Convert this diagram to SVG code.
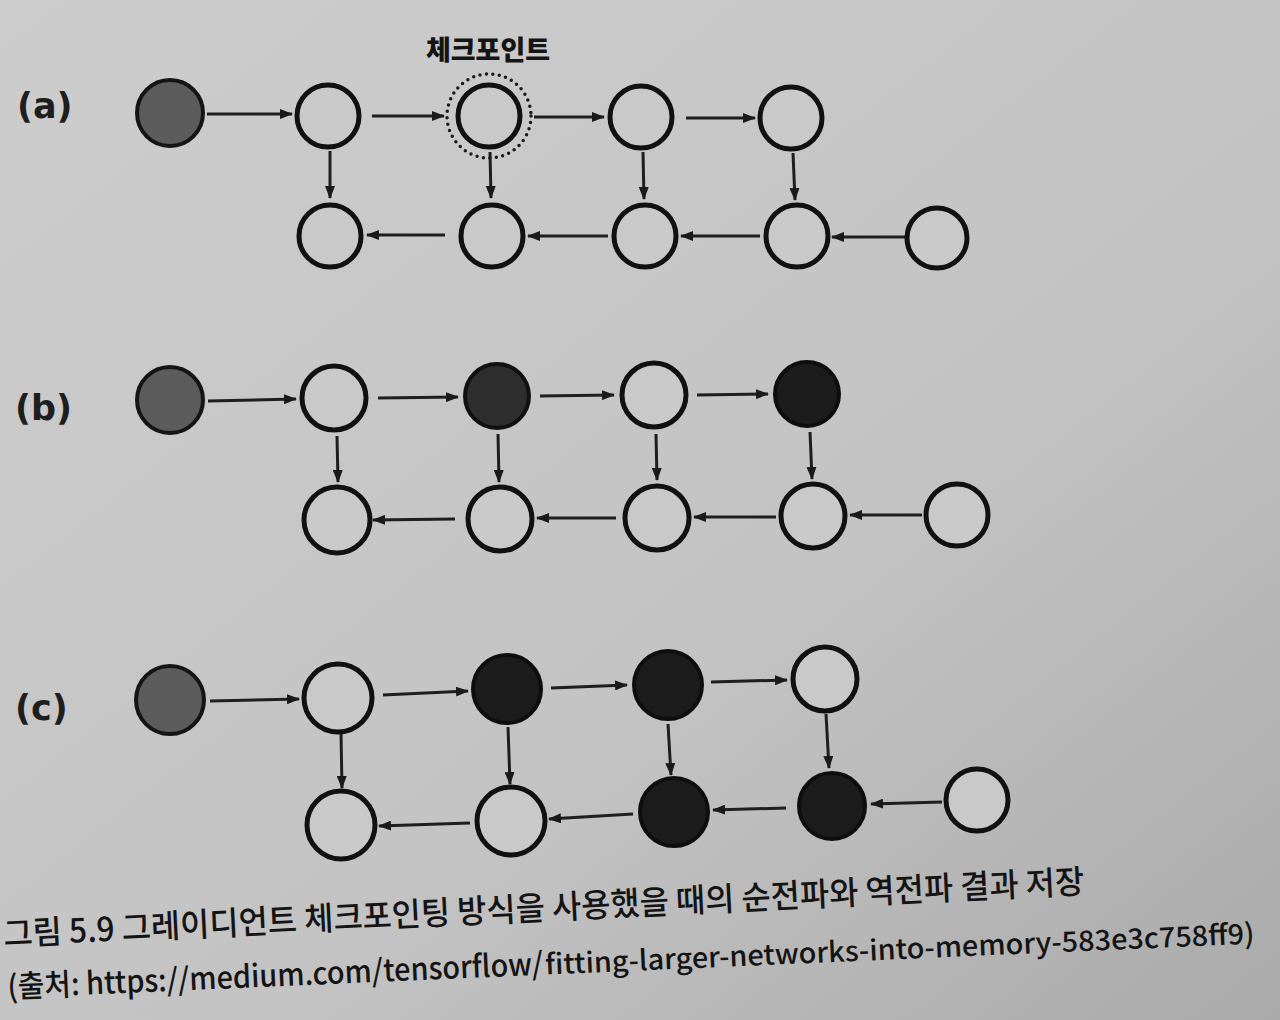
<svg xmlns="http://www.w3.org/2000/svg" width="1280" height="1020" viewBox="0 0 1280 1020">
<defs>
<linearGradient id="bg" x1="0" y1="0" x2="1" y2="1">
<stop offset="0" stop-color="#cdcdcd"/>
<stop offset="0.6" stop-color="#c3c3c3"/>
<stop offset="1" stop-color="#aaaaaa"/>
</linearGradient>
<marker id="ah" viewBox="0 0 13 10" refX="12" refY="5" markerWidth="13" markerHeight="10" markerUnits="userSpaceOnUse" orient="auto">
<path d="M0,0 L13,5 L0,10 Z" fill="#1a1a1a"/>
</marker>
<style>
.n{fill:#c9c9c9;stroke:#111;stroke-width:5}
.g{fill:#5c5c5c;stroke:#151515;stroke-width:4}
.d{fill:#2e2e2e;stroke:#111;stroke-width:4}
.k{fill:#1c1c1c;stroke:#0e0e0e;stroke-width:4}
.ring{fill:none;stroke:#1a1a1a;stroke-width:3.5;stroke-dasharray:0 6.5;stroke-linecap:round}
.c line{stroke:#1e1e1e;stroke-width:3;marker-end:url(#ah)}
.lbl{font-family:"DejaVu Sans","Noto Sans",sans-serif;font-size:35px;font-weight:600;fill:#1e1e1e}
.cap{font-family:"Noto Sans CJK KR","Liberation Sans",sans-serif;font-weight:500;fill:#141414}
</style>
</defs>
<rect width="1280" height="1020" fill="url(#bg)"/>

<text class="lbl" x="17" y="118">(a)</text>
<text class="lbl" x="15" y="420">(b)</text>
<text class="lbl" x="15" y="720">(c)</text>
<text x="488" y="60" text-anchor="middle" font-family="Noto Sans CJK KR, sans-serif" font-weight="900" font-size="27" fill="#141414">체크포인트</text>

<g class="c" id="connectors">
<line x1="207" y1="114" x2="292" y2="114"/>
<line x1="372" y1="116" x2="444" y2="116"/>
<line x1="534" y1="117" x2="604" y2="117"/>
<line x1="686" y1="118" x2="755" y2="118"/>
<line x1="330" y1="151" x2="330" y2="198"/>
<line x1="490" y1="152" x2="491" y2="198"/>
<line x1="643" y1="152" x2="644" y2="199"/>
<line x1="793" y1="153" x2="795" y2="200"/>
<line x1="905" y1="237" x2="832" y2="237"/>
<line x1="760" y1="236" x2="681" y2="236"/>
<line x1="608" y1="236" x2="528" y2="236"/>
<line x1="445" y1="235" x2="367" y2="235"/>

<line x1="208" y1="401" x2="296" y2="399"/>
<line x1="378" y1="398" x2="458" y2="397"/>
<line x1="540" y1="396" x2="614" y2="395"/>
<line x1="697" y1="395" x2="768" y2="394"/>
<line x1="337" y1="436" x2="338" y2="482"/>
<line x1="498" y1="434" x2="499" y2="482"/>
<line x1="656" y1="434" x2="657" y2="480"/>
<line x1="810" y1="432" x2="812" y2="479"/>
<line x1="922" y1="515" x2="850" y2="515"/>
<line x1="776" y1="517" x2="694" y2="517"/>
<line x1="616" y1="518" x2="537" y2="518"/>
<line x1="455" y1="519" x2="373" y2="520"/>

<line x1="210" y1="701" x2="299" y2="699"/>
<line x1="383" y1="695" x2="468" y2="691"/>
<line x1="551" y1="688" x2="627" y2="685"/>
<line x1="711" y1="682" x2="787" y2="680"/>
<line x1="341" y1="733" x2="342" y2="788"/>
<line x1="508" y1="727" x2="510" y2="784"/>
<line x1="668" y1="724" x2="671" y2="775"/>
<line x1="826" y1="714" x2="829" y2="768"/>
<line x1="942" y1="802" x2="871" y2="804"/>
<line x1="786" y1="808" x2="713" y2="810"/>
<line x1="633" y1="814" x2="549" y2="819"/>
<line x1="470" y1="823" x2="379" y2="826"/>
</g>

<g id="a0"><circle class="g" cx="170" cy="113" r="33"/></g>
<g id="a1"><circle class="n" cx="328" cy="116" r="31"/></g>
<g id="a2"><circle class="ring" cx="489" cy="116" r="42"/><circle class="n" cx="489" cy="116" r="31"/></g>
<g id="a3"><circle class="n" cx="641" cy="117" r="31"/></g>
<g id="a4"><circle class="n" cx="791" cy="118" r="31"/></g>
<g id="a5"><circle class="n" cx="330" cy="236" r="31"/></g>
<g id="a6"><circle class="n" cx="492" cy="236" r="31"/></g>
<g id="a7"><circle class="n" cx="645" cy="236" r="31"/></g>
<g id="a8"><circle class="n" cx="797" cy="236" r="31"/></g>
<g id="a9"><circle class="n" cx="937" cy="238" r="30"/></g>

<g id="b0"><circle class="g" cx="170" cy="400" r="33"/></g>
<g id="b1"><circle class="n" cx="334" cy="398" r="32"/></g>
<g id="b2"><circle class="d" cx="497" cy="396" r="32"/></g>
<g id="b3"><circle class="n" cx="654" cy="395" r="32"/></g>
<g id="b4"><circle class="k" cx="807" cy="394" r="32"/></g>
<g id="b5"><circle class="n" cx="337" cy="520" r="33"/></g>
<g id="b6"><circle class="n" cx="500" cy="519" r="32"/></g>
<g id="b7"><circle class="n" cx="657" cy="518" r="32"/></g>
<g id="b8"><circle class="n" cx="813" cy="516" r="32"/></g>
<g id="b9"><circle class="n" cx="957" cy="515" r="31"/></g>

<g id="c0"><circle class="g" cx="170" cy="700" r="34"/></g>
<g id="c1"><circle class="n" cx="338" cy="698" r="34"/></g>
<g id="c2"><circle class="k" cx="507" cy="689" r="34"/></g>
<g id="c3"><circle class="k" cx="668" cy="685" r="34"/></g>
<g id="c4"><circle class="n" cx="825" cy="679" r="32"/></g>
<g id="c5"><circle class="n" cx="341" cy="825" r="34"/></g>
<g id="c6"><circle class="n" cx="511" cy="821" r="34"/></g>
<g id="c7"><circle class="k" cx="674" cy="812" r="34"/></g>
<g id="c8"><circle class="k" cx="832" cy="806" r="33"/></g>
<g id="c9"><circle class="n" cx="977" cy="800" r="31"/></g>

<text class="cap" font-size="33" transform="translate(4,946) rotate(-2.8)" textLength="1082" lengthAdjust="spacingAndGlyphs">그림 5.9 그레이디언트 체크포인팅 방식을 사용했을 때의 순전파와 역전파 결과 저장</text>
<g transform="translate(8,998) rotate(-2.5)">
<text class="cap" font-size="31" x="0" y="0" textLength="536" lengthAdjust="spacingAndGlyphs">(출처: https://medium.com/tensorflow/</text>
<text class="cap" font-size="28" x="538" y="0" textLength="710" lengthAdjust="spacingAndGlyphs">fitting-larger-networks-into-memory-583e3c758ff9)</text>
</g>
</svg>
